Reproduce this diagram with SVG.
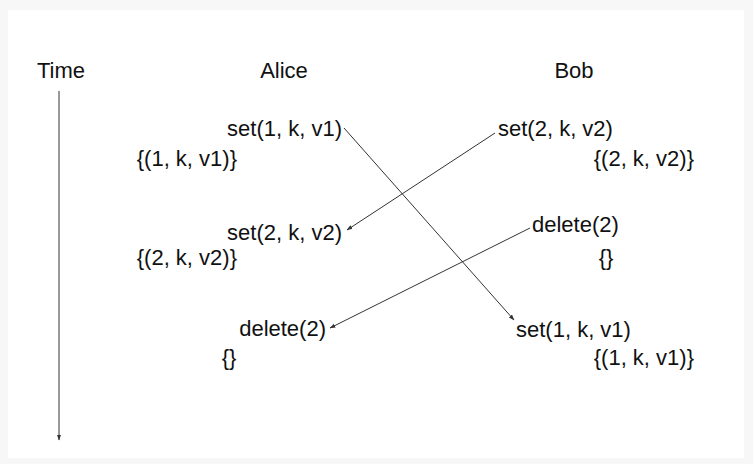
<svg xmlns="http://www.w3.org/2000/svg" width="753" height="464" viewBox="0 0 753 464">
  <defs>
    <style>
      text { font-family: "Liberation Sans", Arial, Helvetica, sans-serif; font-size: 22px; fill: #111; }
      .conn { stroke: #333; stroke-width: 1; fill: none; marker-end: url(#arrow); }
    </style>
    <marker id="arrow" viewBox="0 0 10 10" refX="9" refY="5" markerWidth="6" markerHeight="6" orient="auto" markerUnits="userSpaceOnUse">
      <path d="M0,1.5 L10,5 L0,8.5 Z" fill="#333"/>
    </marker>
  </defs>
  <rect x="0" y="0" width="753" height="464" fill="#f7f7f7"/>
  <rect x="8" y="10" width="736" height="448" fill="#ffffff"/>

  <g id="time">
    <text x="61" y="78" text-anchor="middle">Time</text>
  </g>
  <g id="alice-header"><text x="284" y="78" text-anchor="middle">Alice</text></g>
  <g id="bob-header"><text x="574" y="78" text-anchor="middle">Bob</text></g>

  <g id="alice-set1"><text x="342" y="136" text-anchor="end">set(1, k, v1)</text></g>
  <g id="alice-state1"><text x="237" y="166" text-anchor="end">{(1, k, v1)}</text></g>
  <g id="bob-set2"><text x="498" y="136">set(2, k, v2)</text></g>
  <g id="bob-state1"><text x="694" y="166" text-anchor="end">{(2, k, v2)}</text></g>

  <g id="alice-set2"><text x="342" y="240" text-anchor="end">set(2, k, v2)</text></g>
  <g id="alice-state2"><text x="237" y="265" text-anchor="end">{(2, k, v2)}</text></g>
  <g id="bob-delete"><text x="532" y="232">delete(2)</text></g>
  <g id="bob-state2"><text x="606" y="265" text-anchor="middle">{}</text></g>

  <g id="alice-delete"><text x="326" y="336" text-anchor="end">delete(2)</text></g>
  <g id="alice-state3"><text x="229" y="365" text-anchor="middle">{}</text></g>
  <g id="bob-set1"><text x="516" y="337">set(1, k, v1)</text></g>
  <g id="bob-state3"><text x="694" y="365" text-anchor="end">{(1, k, v1)}</text></g>

  <g id="connectors">
    <line class="conn" x1="59" y1="91" x2="59" y2="440"/>
    <line class="conn" x1="344" y1="128" x2="514" y2="320"/>
    <line class="conn" x1="495" y1="133" x2="347" y2="230"/>
    <line class="conn" x1="530" y1="228" x2="330" y2="328"/>
  </g>
</svg>
